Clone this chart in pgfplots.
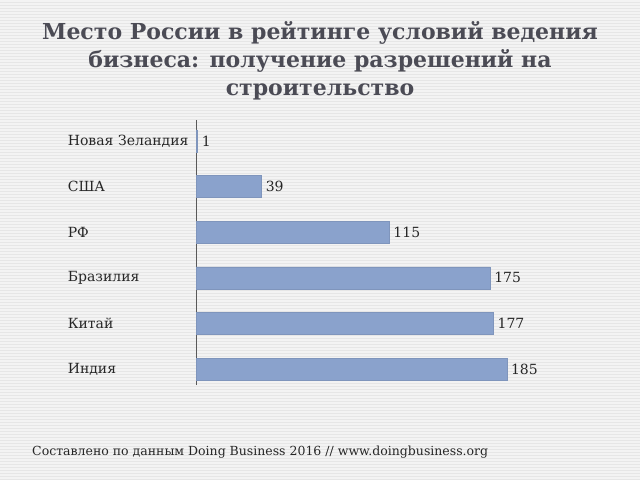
\documentclass[border=0pt]{standalone}
\usepackage{fontspec}
\setmainfont{DejaVu Serif}
\usepackage{pgfplots}
\pgfplotsset{compat=1.18}
\definecolor{bg}{HTML}{F3F3F3}
\definecolor{stripe}{HTML}{E6E6E6}
\definecolor{barc}{HTML}{8AA2CC}
\definecolor{titlec}{HTML}{4B4B55}
\begin{document}
\begin{tikzpicture}[x=1pt,y=1pt]
\fill[bg] (0,0) rectangle (640,480);
\useasboundingbox (0,0) rectangle (640,480);
\foreach \i in {0,3,...,477} \draw[stripe, line width=0.9pt] (0,\i+0.5) -- (640,\i+0.5);
\node[font=\bfseries\fontsize{22}{28}\selectfont, text=titlec, align=center] at (320,419) {Место России в рейтинге условий ведения\\бизнеса: получение разрешений на\\строительство};
\node[anchor=west, font=\fontsize{12.5}{15}\selectfont, text=black!85, inner sep=0pt] at (32,28) {Составлено по данным Doing Business 2016 // www.doingbusiness.org};
\begin{axis}[at={(196pt,95pt)}, anchor=south west, scale only axis,
  width=420pt, height=265pt, xmin=0, xmax=250, ymin=-0.35, ymax=5.46,
  xbar, bar width=22pt, hide x axis, axis y line*=left,
  y axis line style={draw=gray!70!black, line width=1pt, -},
  ytick={0,...,5}, yticklabels={Индия,Китай,Бразилия,РФ,США,Новая Зеландия},
  major tick length=0,
  yticklabel style={font=\fontsize{14}{16}\selectfont, text=black!85, text width=126pt, align=left, anchor=east, inner sep=0pt, xshift=-2pt},
  nodes near coords,
  nodes near coords style={font=\fontsize{14}{17}\selectfont, text=black!85, anchor=west, inner sep=4pt},
  /pgf/number format/assume math mode=true, clip=false]
\addplot[fill=barc, draw=barc!92!black, line width=0.5pt] coordinates {(185,0) (177,1) (175,2) (115,3) (39,4) (1,5)};
\end{axis}
\end{tikzpicture}
\end{document}
